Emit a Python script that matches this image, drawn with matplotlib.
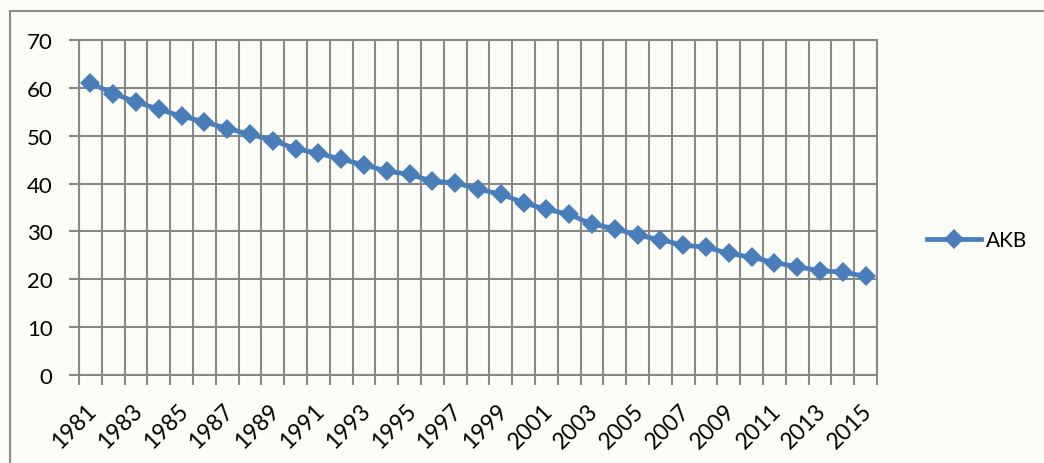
import matplotlib
matplotlib.use("Agg")
import matplotlib.pyplot as plt
from matplotlib.patches import Rectangle
from matplotlib.transforms import ScaledTranslation
import numpy as np

# AKB series, 1981-2015
years = list(range(1981, 2016))
akb = [61.0, 58.8, 57.1, 55.5, 54.1, 52.9, 51.5, 50.3, 49.0, 47.3,
       46.3, 45.1, 43.9, 42.6, 41.9, 40.5, 40.2, 38.8, 37.8, 36.0,
       34.6, 33.6, 31.5, 30.6, 29.2, 28.3, 27.1, 26.7, 25.4, 24.6,
       23.5, 22.6, 21.8, 21.5, 20.6]
series_name = "AKB"
y_ticks = [0, 10, 20, 30, 40, 50, 60, 70]

bg = "#FDFDF8"
grid_c = "#888888"
line_c = "#4A7EBB"

plt.rcParams["font.family"] = ["Lato", "DejaVu Sans"]

W, H = 1044, 464
fig = plt.figure(figsize=(W / 100, H / 100), dpi=100, facecolor=bg)

# chart frame
fig.patches.append(Rectangle((9.5 / W, -0.1), 1.2, 1 - 12 / H + 0.1,
                             transform=fig.transFigure, fill=False,
                             edgecolor="#8C8C8C", linewidth=1.5))

left, right, top, bottom = 79, 877, 41, 376
ax = fig.add_axes([left / W, 1 - bottom / H, (right - left) / W, (bottom - top) / H])
ax.set_facecolor(bg)

x = np.arange(len(years))
ax.plot(x, akb, color=line_c, linewidth=3.4, marker="D", markersize=10.5,
        markeredgewidth=0, label=series_name, zorder=3, solid_joinstyle="round")

ax.set_xlim(-0.5, len(years) - 0.5)
ax.set_ylim(0, 70)

# category boundaries carry the grid and tick marks
ax.set_xticks(np.arange(len(years) + 1) - 0.5)
ax.set_xticklabels([])
ax.tick_params(axis="x", which="major", length=7, width=1.5, color=grid_c, direction="out")
lab_pos = x[::2]
ax.set_xticks(lab_pos, minor=True)
ax.set_xticklabels([str(years[i]) for i in lab_pos], minor=True,
                   rotation=45, ha="right", va="center", rotation_mode="anchor",
                   fontsize=16.5)
ax.tick_params(axis="x", which="minor", length=0, pad=23)
shift = ScaledTranslation(3 / 100, 0, fig.dpi_scale_trans)
for lbl in ax.get_xticklabels(minor=True):
    lbl.set_transform(lbl.get_transform() + shift)

ax.set_yticks(y_ticks)
ax.tick_params(axis="y", length=7, width=1.5, color=grid_c, direction="out",
               labelsize=16, pad=12)

ax.grid(True, which="major", color=grid_c, linewidth=1.5)
ax.set_axisbelow(True)
for s in ax.spines.values():
    s.set_color(grid_c)
    s.set_linewidth(1.5)

leg = ax.legend(loc="center left", bbox_to_anchor=(927 / W, 1 - 241 / H),
                bbox_transform=fig.transFigure, frameon=False, fontsize=15,
                handlelength=2.6, handletextpad=0.25, borderpad=0,
                borderaxespad=0, numpoints=1)

fig.savefig("out.png", dpi=100, facecolor=bg)
